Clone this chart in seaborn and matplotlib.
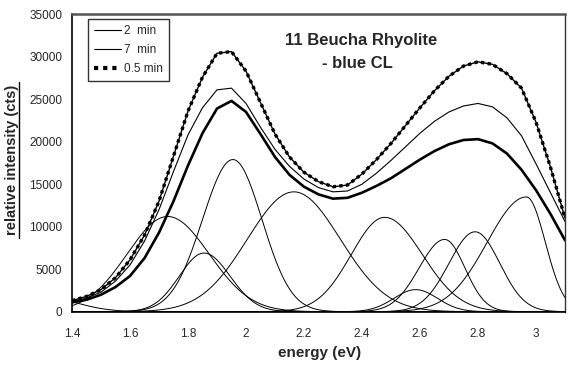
import numpy as np
import pandas as pd
import seaborn as sns
import matplotlib.pyplot as plt
from matplotlib.lines import Line2D

energy_ev = [1.40, 1.45, 1.50, 1.55, 1.60, 1.65, 1.70, 1.75, 1.80, 1.85,
             1.90, 1.95, 2.00, 2.05, 2.10, 2.15, 2.20, 2.25, 2.30, 2.35,
             2.40, 2.45, 2.50, 2.55, 2.60, 2.65, 2.70, 2.75, 2.80, 2.85,
             2.90, 2.95, 3.00, 3.05, 3.10]
cts_05min = [1300, 1800, 2600, 4000, 6100, 9000, 13000, 18300, 23600, 27600,
             30400, 30600, 28300, 24600, 20900, 18200, 16400, 15300, 14700, 14900,
             16200, 17900, 19800, 21900, 24000, 26000, 27700, 28900, 29400, 29100,
             28000, 26300, 22300, 17000, 11000]
cts_2min = [1200, 1600, 2300, 3600, 5500, 8300, 12000, 16500, 20800, 24000,
            26100, 26300, 24500, 21700, 19100, 17100, 15600, 14600, 14100, 14200,
            15000, 16300, 17800, 19400, 21000, 22400, 23500, 24200, 24500, 24100,
            22800, 20700, 17400, 14000, 10600]
cts_7min = [1100, 1400, 2000, 2900, 4200, 6300, 9300, 13000, 17200, 21000,
            23900, 24800, 23500, 20900, 18200, 16100, 14700, 13800, 13300, 13400,
            14000, 14800, 15700, 16800, 17900, 18900, 19700, 20200, 20300, 19800,
            18600, 16700, 14300, 11500, 8400]

# gaussian components of the fit: centre, height, width below / above centre
peak_center = [1.30, 1.73, 1.855, 1.955, 2.165, 2.478, 2.585, 2.685, 2.79, 2.967]
peak_height = [1700, 11200, 6900, 17900, 14100, 11100, 2600, 8500, 9400, 13500]
sigma_low = [0.115, 0.14, 0.085, 0.105, 0.16, 0.115, 0.075, 0.088, 0.09, 0.135]
sigma_high = [0.115, 0.143, 0.09, 0.10, 0.16, 0.13, 0.075, 0.07, 0.085, 0.065]

spectra = pd.DataFrame({'energy': energy_ev, '0.5 min': cts_05min,
                        '2 min': cts_2min, '7 min': cts_7min})

grid = np.linspace(1.4, 3.1, 341)
rows = []
for i, (c, h, sl, sh) in enumerate(zip(peak_center, peak_height, sigma_low, sigma_high)):
    s = np.where(grid < c, sl, sh)
    rows.append(pd.DataFrame({'energy': grid, 'cts': h * np.exp(-(grid - c) ** 2 / (2 * s ** 2)),
                              'peak': i}))
components = pd.concat(rows)

sns.set_style('white')
plt.rcParams['font.family'] = ['Liberation Sans', 'DejaVu Sans']

fig = plt.figure(figsize=(5.68, 3.71), dpi=100)
ax = fig.add_axes([72 / 568, 1 - 311.7 / 371, 493 / 568, 297.5 / 371])

sns.lineplot(data=components, x='energy', y='cts', units='peak', estimator=None,
             color='black', lw=0.7, ax=ax)

# 0.5 min: measured (dotted) with fit on top
sns.lineplot(data=spectra, x='energy', y='0.5 min', color='black', lw=2.4,
             linestyle=(0, (1, 1)), ax=ax)
sns.lineplot(data=spectra, x='energy', y='0.5 min', color='black', lw=1.0, ax=ax)
sns.lineplot(data=spectra, x='energy', y='2 min', color='black', lw=0.8, ax=ax)
sns.lineplot(data=spectra, x='energy', y='7 min', color='black', lw=1.9, ax=ax)

ax.set_xlim(1.4, 3.1)
ax.set_ylim(0, 35000)
ax.set_xticks([1.4, 1.6, 1.8, 2.0, 2.2, 2.4, 2.6, 2.8, 3.0])
ax.set_xticklabels(['1.4', '1.6', '1.8', '2', '2.2', '2.4', '2.6', '2.8', '3'])
ax.set_yticks(range(0, 35001, 5000))
ax.tick_params(direction='out', length=4, width=1, labelsize=8.5, color='black', pad=3)
ax.tick_params(axis='x', pad=8)

for side in ['left', 'bottom']:
    ax.spines[side].set_color('black')
    ax.spines[side].set_linewidth(1.2)
ax.spines['top'].set_color('#555555')
ax.spines['top'].set_linewidth(1.8)
ax.spines['right'].set_color('#333333')
ax.spines['right'].set_linewidth(1.0)

ax.set_xlabel('energy (eV)', fontsize=11, fontweight='bold', va='center')
ax.xaxis.set_label_coords(0.503, -0.139)
ax.set_ylabel('relative intensity (cts)', fontsize=10.5, fontweight='bold',
              va='center', ha='center', rotation_mode='default')
ax.yaxis.set_label_coords(-0.122, 0.51)
# underline of the y label
fig.add_artist(Line2D([19 / 568, 19 / 568], [1 - 238 / 371, 1 - 82 / 371],
                      color='black', lw=1.0))

ax.text(0.586, 0.91, '11 Beucha Rhyolite', transform=ax.transAxes,
        ha='center', va='center', fontsize=12, fontweight='bold')
ax.text(0.578, 0.835, '- blue CL', transform=ax.transAxes,
        ha='center', va='center', fontsize=12, fontweight='bold')

handles = [Line2D([], [], color='black', lw=0.8),
           Line2D([], [], color='black', lw=0.8),
           Line2D([], [], color='black', lw=3, linestyle=(0, (1, 1.2)))]
leg = ax.legend(handles, ['2  min', '7  min', '0.5 min'], loc='upper left',
                bbox_to_anchor=(0.032, 0.983), borderaxespad=0, fontsize=8.5,
                frameon=True, fancybox=False, edgecolor='black', labelspacing=0.6,
                handlelength=2.3, handletextpad=0.3, borderpad=0.5)
leg.get_frame().set_linewidth(1.0)

fig.savefig('out.png', dpi=100)
